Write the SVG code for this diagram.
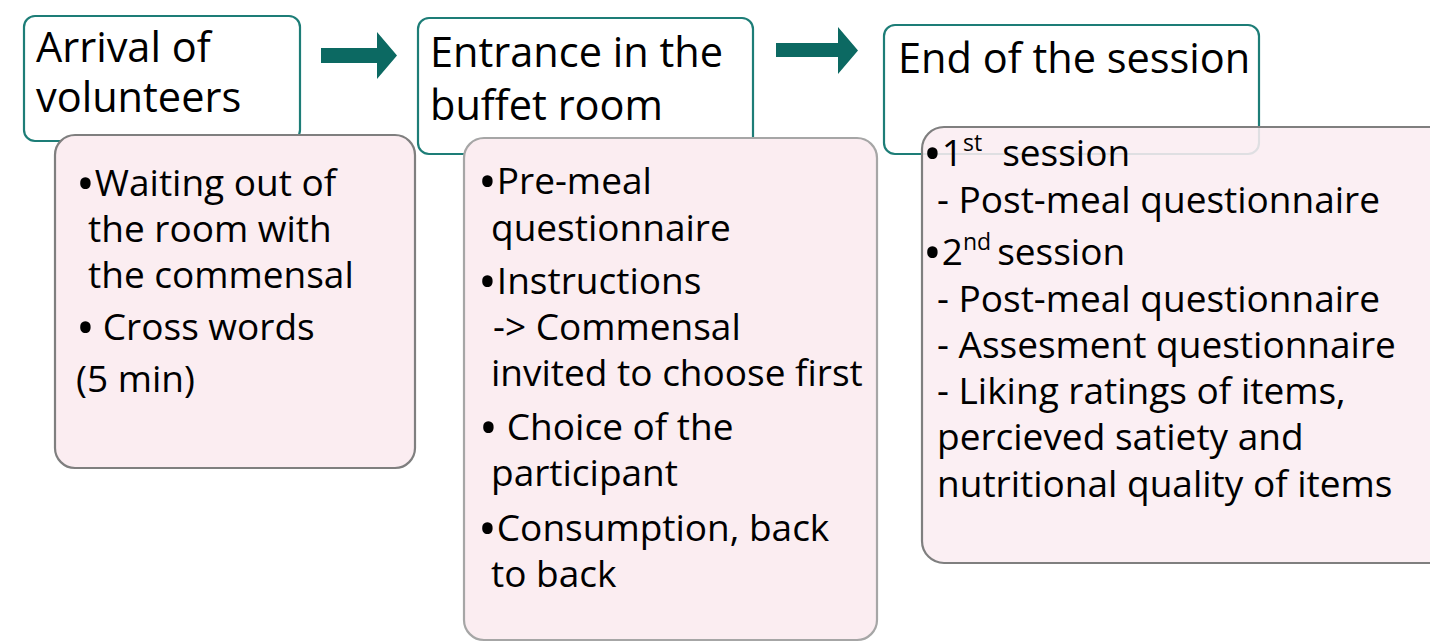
<svg xmlns="http://www.w3.org/2000/svg" width="1430" height="643" viewBox="0 0 1430 643">
<style>
.hdr{fill:#ffffff;stroke:#1d7d77;stroke-width:2.2}
.pink{fill:#fbedf1;stroke:#7f7f7f;stroke-width:2.2}
.arrow{fill:#0c6962}
text{font-family:"Open Sans","Liberation Sans",sans-serif;fill:#000}
.h{font-size:41.5px}
.t{font-size:37px}
.b{font-size:50px}
</style>
<rect width="1430" height="643" fill="#ffffff"/>
<g id="connectors">
<polygon class="arrow" points="321,48 377,48 377,32 397,55.5 377,79 377,63 321,63"/>
<polygon class="arrow" points="776,43 838,43 838,27 858,50.5 838,74 838,57 776,57"/>
</g>
<g id="node-arrival">
<rect class="hdr" x="24" y="16" width="276" height="125" rx="11"/>
<text class="h" x="36" y="62">Arrival of</text>
<text class="h" x="36" y="112">volunteers</text>
</g>
<g id="node-arrival-details">
<rect class="pink" x="55" y="135" width="360" height="333" rx="20"/>
<text class="t" x="76" y="196"><tspan class="b" dy="5">•</tspan><tspan dy="-5">Waiting out of</tspan></text>
<text class="t" x="88" y="242">the room with</text>
<text class="t" x="88" y="288">the commensal</text>
<text class="t" x="76" y="340"><tspan class="b" dy="5">•</tspan><tspan dy="-5" dx="8">Cross words</tspan></text>
<text class="t" x="76" y="392">(5 min)</text>
</g>
<g id="node-entrance">
<rect class="hdr" x="418" y="18" width="335" height="136" rx="11"/>
<text class="h" x="430" y="67">Entrance in the</text>
<text class="h" x="430" y="120">buffet room</text>
</g>
<g id="node-entrance-details">
<rect class="pink" x="464" y="138" width="413" height="502" rx="20" style="stroke:#a6a6a6"/>
<text class="t" x="478" y="194"><tspan class="b" dy="5">•</tspan><tspan dy="-5">Pre-meal</tspan></text>
<text class="t" x="491" y="241">questionnaire</text>
<text class="t" x="478" y="294"><tspan class="b" dy="5">•</tspan><tspan dy="-5">Instructions</tspan></text>
<text class="t" x="493" y="340">-&gt; Commensal</text>
<text class="t" x="491" y="386">invited to choose first</text>
<text class="t" x="479" y="440"><tspan class="b" dy="5">•</tspan><tspan dy="-5" dx="9">Choice of the</tspan></text>
<text class="t" x="491" y="486">participant</text>
<text class="t" x="478" y="541"><tspan class="b" dy="5">•</tspan><tspan dy="-5">Consumption, back</tspan></text>
<text class="t" x="491" y="587">to back</text>
</g>
<g id="node-end">
<rect class="hdr" x="884" y="25" width="375" height="129" rx="11"/>
<text class="h" x="898" y="73">End of the session</text>
</g>
<g id="node-end-details">
<rect class="pink" x="922" y="127" width="530" height="436" rx="22" style="fill-opacity:0.88"/>
<text class="t" x="923" y="166"><tspan class="b" dy="5">•</tspan><tspan dy="-5">1</tspan><tspan font-size="23" dy="-15">st</tspan><tspan dy="15" dx="20">session</tspan></text>
<text class="t" x="937" y="213">- Post-meal questionnaire</text>
<text class="t" x="923" y="265"><tspan class="b" dy="5">•</tspan><tspan dy="-5">2</tspan><tspan font-size="23" dy="-15">nd</tspan><tspan dy="15" dx="6">session</tspan></text>
<text class="t" x="937" y="312">- Post-meal questionnaire</text>
<text class="t" x="937" y="358">- Assesment questionnaire</text>
<text class="t" x="937" y="404">- Liking ratings of items,</text>
<text class="t" x="937" y="450">percieved satiety and</text>
<text class="t" x="937" y="497">nutritional quality of items</text>
</g>
</svg>
